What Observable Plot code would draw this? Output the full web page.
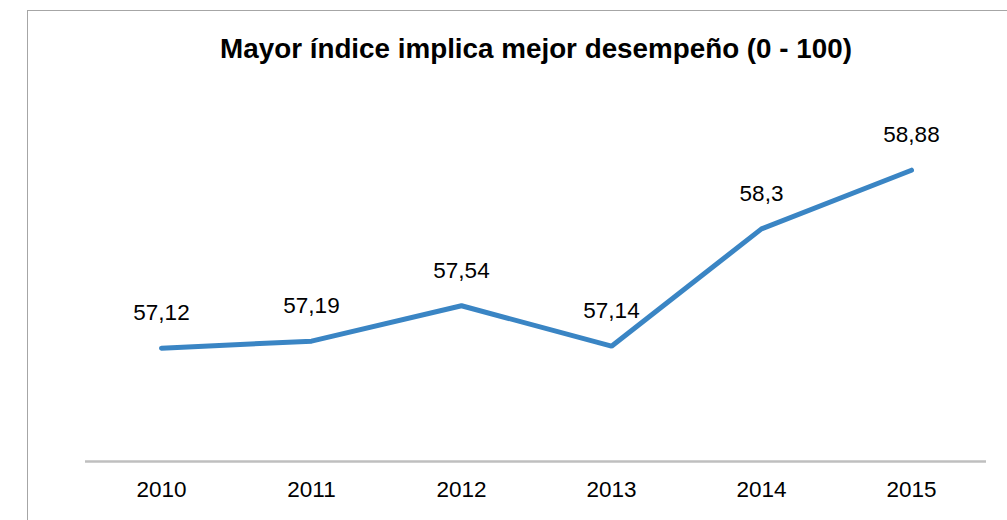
<!DOCTYPE html>
<html>
<head>
<meta charset="utf-8">
<script src="https://cdn.jsdelivr.net/npm/d3@7"></script>
<script src="https://cdn.jsdelivr.net/npm/@observablehq/plot@0.6"></script>
<style>
  html, body { margin: 0; padding: 0; background: #fff; }
  #wrap { position: relative; width: 1007px; height: 520px; overflow: hidden; font-family: "Liberation Sans", Arial, sans-serif; }
  #frame { position: absolute; left: 27px; top: 10px; right: -5px; bottom: -5px; border-left: 1.5px solid #a6a6a6; border-top: 1.5px solid #a6a6a6; }
  #title { position: absolute; left: 0; width: 1072px; top: 33px; text-align: center; font-weight: bold; font-size: 27.8px; color: #000; }
  #chart { position: absolute; left: 0; top: 0; }
</style>
</head>
<body>
<div id="wrap">
  <div id="frame"></div>
  <div id="title">Mayor índice implica mejor desempeño (0 - 100)</div>
  <div id="chart"></div>
</div>
<script>
const years = ["2010", "2011", "2012", "2013", "2014", "2015"];
const values = [57.12, 57.19, 57.54, 57.14, 58.3, 58.88];
const yDomain = [56, 59.5];

const data = years.map((y, i) => ({year: y, value: values[i], label: String(values[i]).replace(".", ",")}));

const chart = Plot.plot({
  width: 1007,
  height: 520,
  marginLeft: 85,
  marginRight: 21,
  marginTop: 107,
  marginBottom: 59,
  style: {fontFamily: "'Liberation Sans', Arial, sans-serif", background: "transparent", color: "#000"},
  x: {domain: years, type: "point", padding: 0.5, label: null},
  y: {domain: yDomain, axis: null},
  marks: [
    Plot.ruleY([yDomain[0]], {stroke: "#bfbfbf", strokeWidth: 2.5}),
    Plot.axisX({tickSize: 0, tickPadding: 20, fontSize: 22.5, fill: "#000"}),
    Plot.line(data, {x: "year", y: "value", stroke: "#3a85c4", strokeWidth: 5, strokeLinecap: "round", strokeLinejoin: "miter"}),
    Plot.text(data, {x: "year", y: "value", text: "label", dy: -35, fontSize: 22.5, fill: "#000"})
  ]
});
document.getElementById("chart").appendChild(chart);
</script>
</body>
</html>
